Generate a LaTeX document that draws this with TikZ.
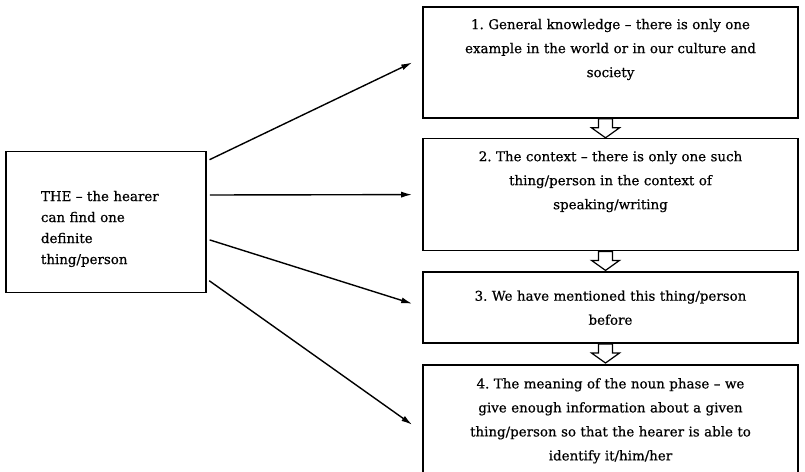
\documentclass[tikz,border=0pt]{standalone}
\usepackage{fontspec}
\setmainfont{DejaVu Serif}[FakeBold=0.6]
\usepackage{tikz}
\usetikzlibrary{arrows.meta,positioning,calc}
\frenchspacing
\tikzset{
  % Base styles
  diagram base/.style={
    x=1pt, y=-1pt,
    >={Latex[length=11pt,width=6pt]},
    node distance=19pt,
  },
  % Boxes
  the box/.style={rectangle, draw, line width=1.6pt, minimum width=200pt, minimum height=141pt,
    text width=130pt, text height=24pt, align=left, font=\fontsize{13.4pt}{21pt}\selectfont},
  rule box/.style={rectangle, draw, line width=1.6pt, minimum width=375pt, inner xsep=4pt,
    text width=360pt, align=center, font=\fontsize{13.4pt}{24pt}\selectfont},
  % Connectors
  link/.style={->, line width=1.4pt, shorten <=3pt},
  next arrow/.style={draw, line width=1.2pt, fill=white, line join=miter},
}

\begin{document}
\begin{tikzpicture}[diagram base]
  \useasboundingbox (0,0) rectangle (805,471);
  \node[the box] (the) at (106,222) {THE -- the hearer\\can find one\\definite\\thing/person};
  \node[rule box, minimum height=111pt, text depth=77pt] (general) at (610.5,62.5)
    {1. General knowledge -- there is only one\\example in the world or in our culture and\\society};
  \node[rule box, minimum height=112pt, text depth=77pt, below=of general] (context)
    {2. The context -- there is only one such\\thing/person in the context of\\speaking/writing};
  \node[rule box, minimum height=71pt, below=20pt of context] (mention)
    {3. We have mentioned this thing/person\\before};
  \node[rule box, minimum height=112pt, below=20pt of mention] (meaning)
    {4. The meaning of the noun phase -- we\\give enough information about a given\\thing/person so that the hearer is able to\\identify it/him/her};
  % hollow arrows between the boxes
  \foreach \a in {general, context, mention}
    \draw[next arrow] ($(\a.south)+(-12,0)$) -- ++(0,9) -- ++(-7,0) -- ++(14,10)
      -- ++(14,-10) -- ++(-7,0) -- ++(0,-9) -- cycle;
  % links from THE
  \draw[link] ([yshift=61pt]the.east) -- ([xshift=-10pt]general.west);
  \draw[link] ([yshift=27pt]the.east) -- ([xshift=-10pt]context.west);
  \draw[link] ([yshift=-17pt]the.east) -- ([xshift=-10pt,yshift=4pt]mention.west);
  \draw[link] ([yshift=-57pt]the.east) -- ([xshift=-10pt,yshift=-4pt]meaning.west);
\end{tikzpicture}
\end{document}
